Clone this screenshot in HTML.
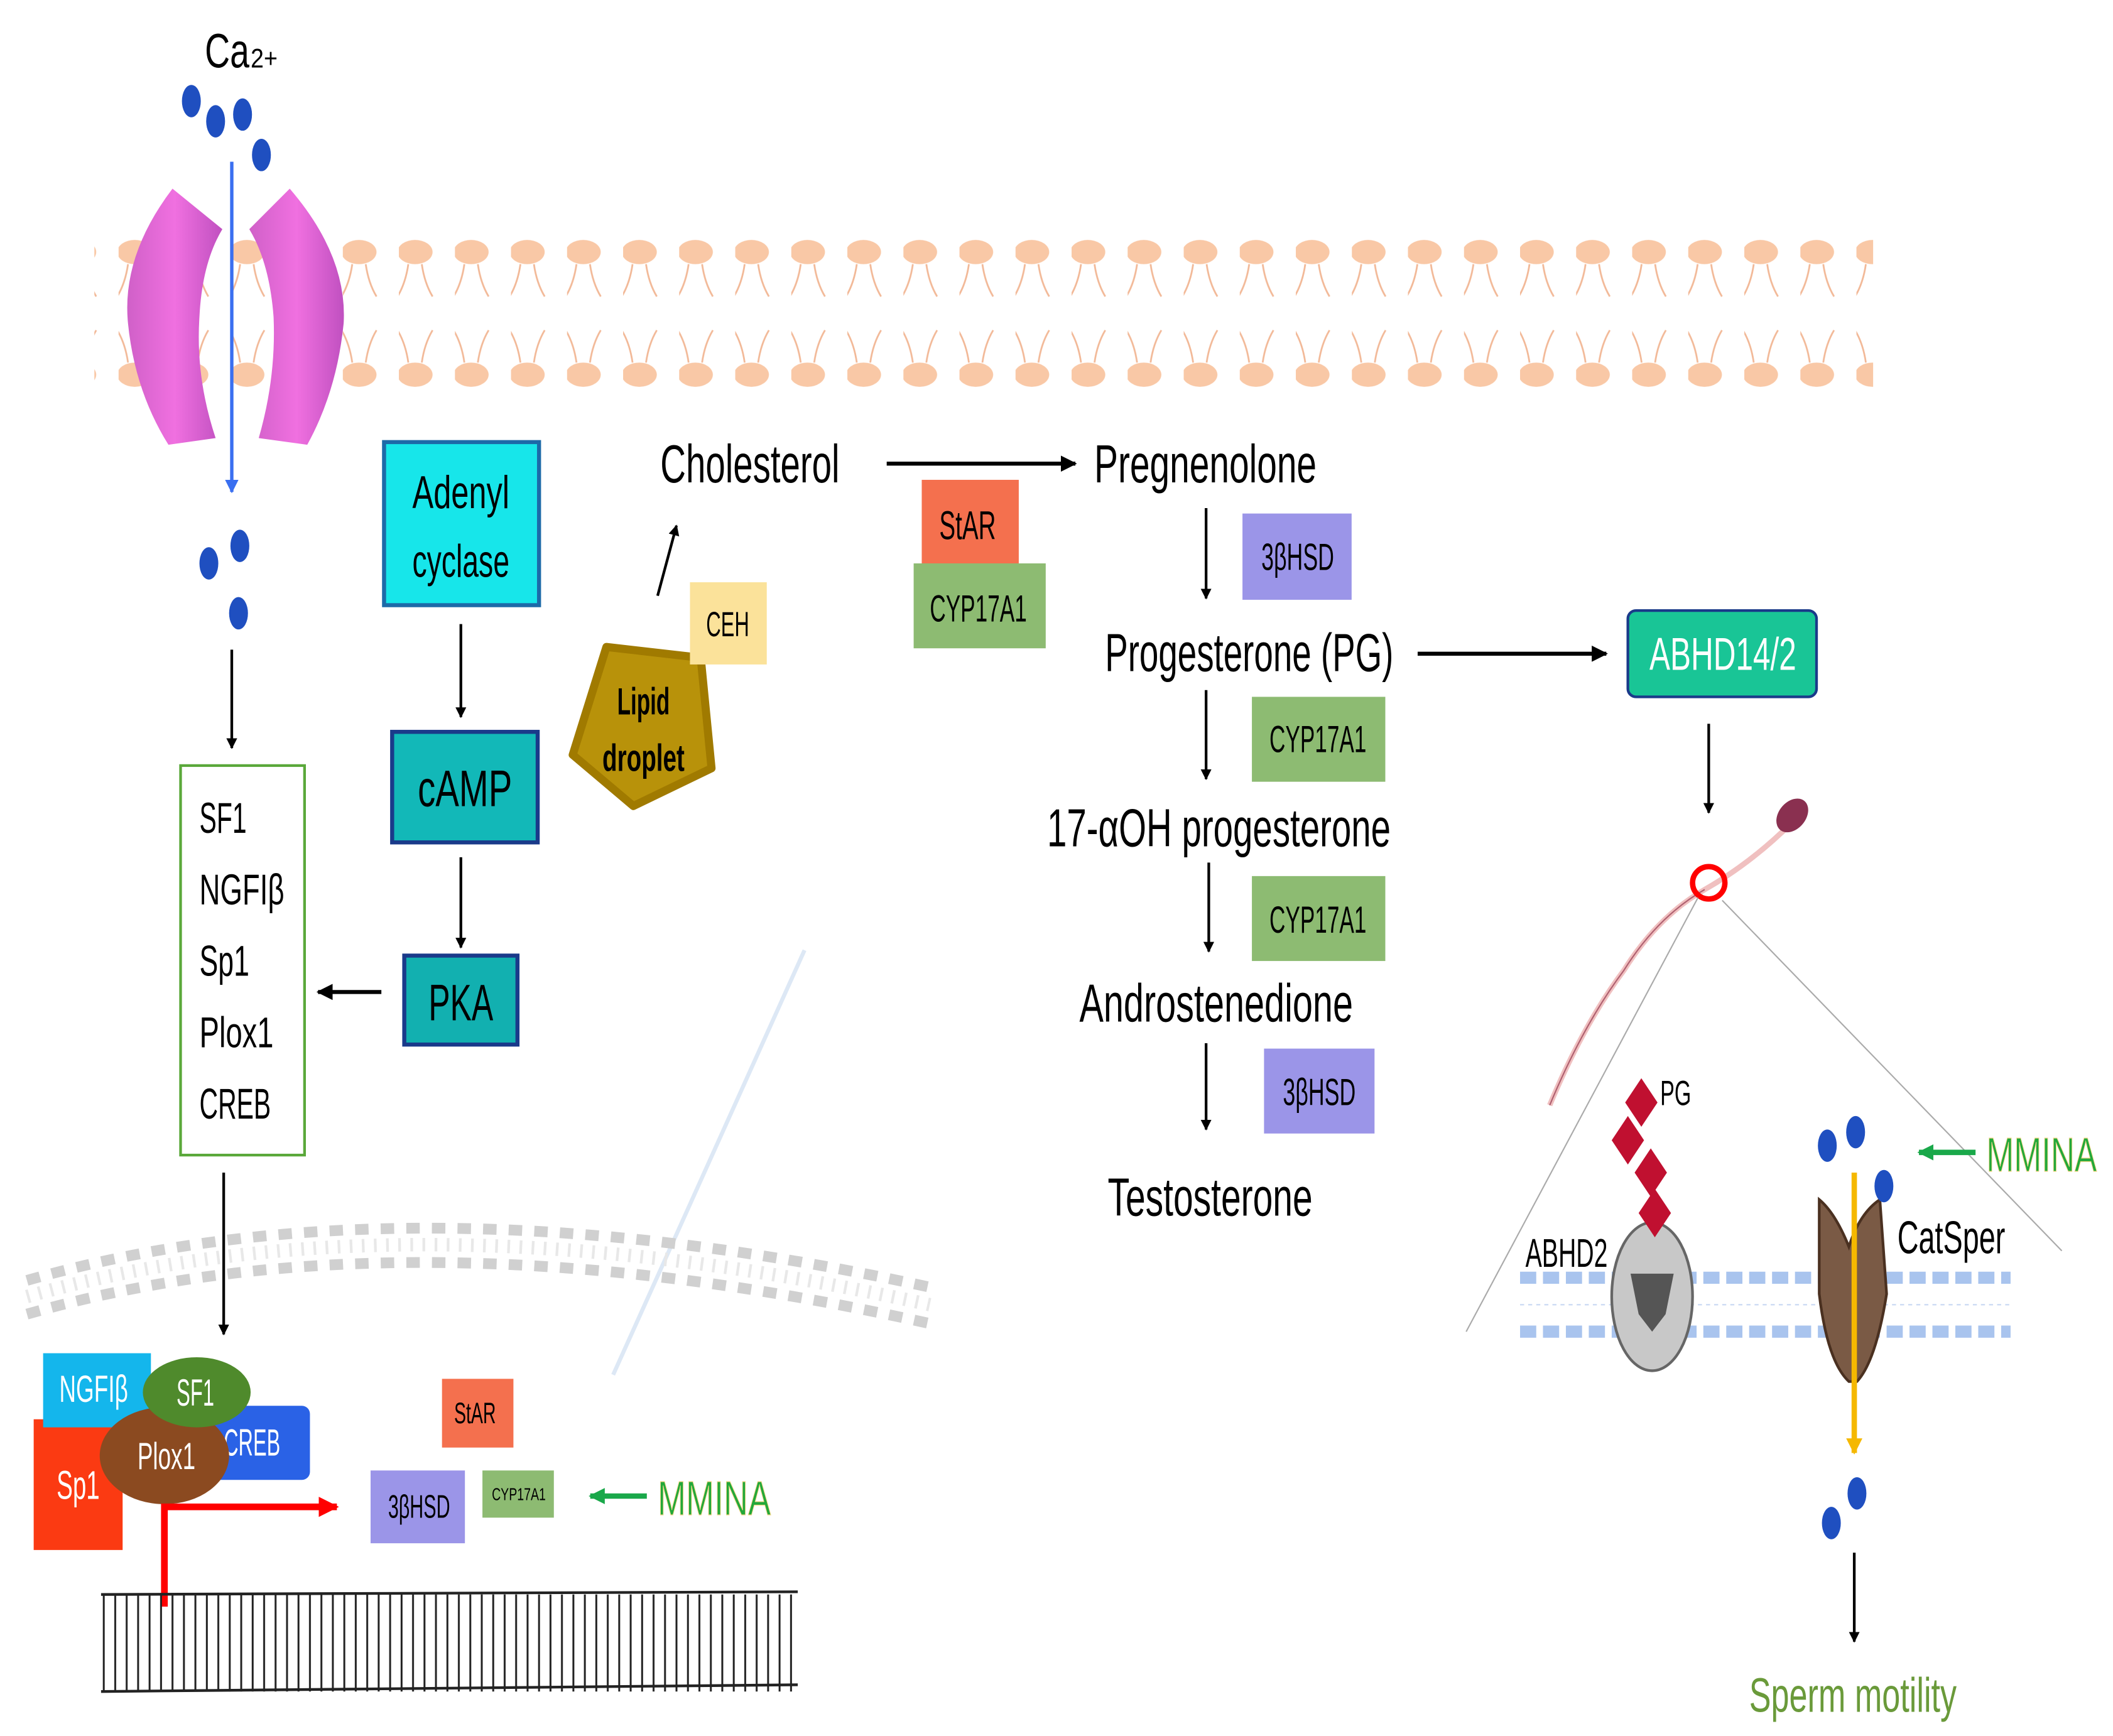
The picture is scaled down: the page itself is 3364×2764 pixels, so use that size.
<!DOCTYPE html>
<html><head><meta charset="utf-8">
<style>
html,body{margin:0;padding:0;background:#fff;}
svg{display:block;}
text{font-family:"Liberation Sans Narrow","Liberation Sans",sans-serif;}
</style></head>
<body>
<svg width="3364" height="2764" viewBox="0 0 1568 1288" preserveAspectRatio="none" xmlns="http://www.w3.org/2000/svg">
<defs>
<pattern id="lipTop" x="88" y="0" width="41.6" height="300" patternUnits="userSpaceOnUse">
  <ellipse cx="12" cy="187" rx="13" ry="9" fill="#f9c8a6"/>
  <path d="M7 196 q-2 14 -8 24 M17 196 q2 14 8 24" stroke="#f2b998" fill="none" stroke-width="1.3"/>
  <ellipse cx="12" cy="278" rx="13" ry="9" fill="#f9c8a6"/>
  <path d="M7 269 q-2 -14 -8 -24 M17 269 q2 -14 8 -24" stroke="#f2b998" fill="none" stroke-width="1.3"/>
</pattern>
<pattern id="dna" x="75" y="0" width="8.5" height="10" patternUnits="userSpaceOnUse">
  <line x1="2" y1="0" x2="2" y2="10" stroke="#222" stroke-width="1.4"/>
</pattern>
<linearGradient id="pink" x1="0" x2="1">
  <stop offset="0" stop-color="#d060c8"/><stop offset="0.5" stop-color="#f070e0"/><stop offset="1" stop-color="#c050c0"/>
</linearGradient>
<marker id="ah" viewBox="0 0 10 10" refX="9" refY="5" markerWidth="4" markerHeight="4" orient="auto"><path d="M0 0 L10 5 L0 10z" fill="#000"/></marker>
<marker id="ahb" viewBox="0 0 10 10" refX="9" refY="5" markerWidth="4" markerHeight="4" orient="auto"><path d="M0 0 L10 5 L0 10z" fill="#3a6ff0"/></marker>
<marker id="ahg" viewBox="0 0 10 10" refX="9" refY="5" markerWidth="3" markerHeight="3" orient="auto"><path d="M0 0 L10 5 L0 10z" fill="#1aa84a"/></marker>
<marker id="ahr" viewBox="0 0 10 10" refX="9" refY="5" markerWidth="3" markerHeight="3" orient="auto"><path d="M0 0 L10 5 L0 10z" fill="#f00"/></marker>
<marker id="ahy" viewBox="0 0 10 10" refX="9" refY="5" markerWidth="3" markerHeight="3" orient="auto"><path d="M0 0 L10 5 L0 10z" fill="#f5b800"/></marker>
</defs>

<rect x="70" y="170" width="1320" height="125" fill="url(#lipTop)"/>

<path d="M128 140 Q90 190 95 240 Q100 290 125 330 L160 325 Q145 280 148 235 Q150 195 165 170 Z" fill="url(#pink)"/>
<path d="M215 140 Q258 190 255 240 Q250 290 228 330 L192 325 Q205 280 203 235 Q200 195 185 170 Z" fill="url(#pink)"/>
<text x="152" y="50" font-size="36" textLength="33" lengthAdjust="spacingAndGlyphs">Ca</text>
<text x="186" y="50" font-size="20" textLength="20" lengthAdjust="spacingAndGlyphs">2+</text>
<g fill="#1f4fc0">
<ellipse cx="142" cy="75" rx="7" ry="12"/><ellipse cx="160" cy="90" rx="7" ry="12"/><ellipse cx="180" cy="85" rx="7" ry="12"/><ellipse cx="194" cy="115" rx="7" ry="12"/>
<ellipse cx="155" cy="418" rx="7" ry="12"/><ellipse cx="178" cy="405" rx="7" ry="12"/><ellipse cx="177" cy="455" rx="7" ry="12"/>
</g>
<line x1="172" y1="120" x2="172" y2="365" stroke="#3a6ff0" stroke-width="2.5" marker-end="url(#ahb)"/>

<line x1="172" y1="482" x2="172" y2="555" stroke="#000" stroke-width="2" marker-end="url(#ah)"/>
<rect x="134" y="568" width="92" height="289" fill="#fff" stroke="#5aa83a" stroke-width="2"/>
<g font-size="32" fill="#000" lengthAdjust="spacingAndGlyphs">
<text x="148" y="618" textLength="35" lengthAdjust="spacingAndGlyphs">SF1</text>
<text x="148" y="671" textLength="63" lengthAdjust="spacingAndGlyphs">NGFIβ</text>
<text x="148" y="724" textLength="37" lengthAdjust="spacingAndGlyphs">Sp1</text>
<text x="148" y="777" textLength="55" lengthAdjust="spacingAndGlyphs">Plox1</text>
<text x="148" y="830" textLength="53" lengthAdjust="spacingAndGlyphs">CREB</text>
</g>
<line x1="166" y1="870" x2="166" y2="990" stroke="#000" stroke-width="2" marker-end="url(#ah)"/>

<rect x="285" y="328" width="115" height="121" fill="#17e6ea" stroke="#1d6aa8" stroke-width="3"/>
<text x="306" y="377" font-size="34" textLength="72" lengthAdjust="spacingAndGlyphs">Adenyl</text>
<text x="306" y="428" font-size="34" textLength="72" lengthAdjust="spacingAndGlyphs">cyclase</text>
<line x1="342" y1="463" x2="342" y2="532" stroke="#000" stroke-width="2" marker-end="url(#ah)"/>
<rect x="291" y="543" width="108" height="82" fill="#12b8b8" stroke="#1a3a8a" stroke-width="3"/>
<text x="310" y="598" font-size="38" textLength="70" lengthAdjust="spacingAndGlyphs">cAMP</text>
<line x1="342" y1="636" x2="342" y2="703" stroke="#000" stroke-width="2" marker-end="url(#ah)"/>
<rect x="300" y="709" width="84" height="66" fill="#12b0b0" stroke="#1a3a8a" stroke-width="3"/>
<text x="318" y="757" font-size="38" textLength="48" lengthAdjust="spacingAndGlyphs">PKA</text>
<line x1="283" y1="736" x2="236" y2="736" stroke="#000" stroke-width="3" marker-end="url(#ah)"/>

<path d="M450 480 L520 488 L528 570 L470 598 L425 560 Z" fill="#b8920a" stroke="#a07a00" stroke-linejoin="round" stroke-width="6"/>
<text x="458" y="530" font-size="28" font-weight="bold" textLength="39" lengthAdjust="spacingAndGlyphs">Lipid</text>
<text x="447" y="572" font-size="28" font-weight="bold" textLength="61" lengthAdjust="spacingAndGlyphs">droplet</text>
<rect x="512" y="432" width="57" height="61" fill="#fbe29a"/>
<text x="524" y="472" font-size="26" textLength="32" lengthAdjust="spacingAndGlyphs">CEH</text>
<line x1="488" y1="442" x2="502" y2="390" stroke="#000" stroke-width="2" marker-end="url(#ah)"/>
<line x1="455" y1="1020" x2="597" y2="705" stroke="#dde8f5" stroke-width="3"/>

<text x="490" y="358" font-size="40" textLength="133" lengthAdjust="spacingAndGlyphs">Cholesterol</text>
<line x1="658" y1="344" x2="798" y2="344" stroke="#000" stroke-width="3" marker-end="url(#ah)"/>
<rect x="684" y="356" width="72" height="62" fill="#f4704e"/>
<text x="697" y="400" font-size="30" textLength="42" lengthAdjust="spacingAndGlyphs">StAR</text>
<rect x="678" y="418" width="98" height="63" fill="#8dbb72"/>
<text x="690" y="461" font-size="28" textLength="72" lengthAdjust="spacingAndGlyphs">CYP17A1</text>
<text x="812" y="358" font-size="40" textLength="165" lengthAdjust="spacingAndGlyphs">Pregnenolone</text>
<line x1="895" y1="377" x2="895" y2="444" stroke="#000" stroke-width="2" marker-end="url(#ah)"/>
<rect x="922" y="381" width="81" height="64" fill="#9b95e8"/>
<text x="936" y="423" font-size="28" textLength="54" lengthAdjust="spacingAndGlyphs">3βHSD</text>
<text x="820" y="498" font-size="40" textLength="214" lengthAdjust="spacingAndGlyphs">Progesterone (PG)</text>
<line x1="1052" y1="485" x2="1192" y2="485" stroke="#000" stroke-width="3" marker-end="url(#ah)"/>
<rect x="1208" y="453" width="140" height="64" rx="6" fill="#19c596" stroke="#1a3a8a" stroke-width="2"/>
<text x="1224" y="497" font-size="34" fill="#fff" textLength="109" lengthAdjust="spacingAndGlyphs">ABHD14/2</text>
<line x1="895" y1="512" x2="895" y2="578" stroke="#000" stroke-width="2" marker-end="url(#ah)"/>
<rect x="929" y="517" width="99" height="63" fill="#8dbb72"/>
<text x="942" y="558" font-size="28" textLength="72" lengthAdjust="spacingAndGlyphs">CYP17A1</text>
<text x="777" y="628" font-size="40" textLength="255" lengthAdjust="spacingAndGlyphs">17-αOH progesterone</text>
<line x1="897" y1="640" x2="897" y2="706" stroke="#000" stroke-width="2" marker-end="url(#ah)"/>
<rect x="929" y="650" width="99" height="63" fill="#8dbb72"/>
<text x="942" y="692" font-size="28" textLength="72" lengthAdjust="spacingAndGlyphs">CYP17A1</text>
<text x="801" y="758" font-size="40" textLength="203" lengthAdjust="spacingAndGlyphs">Androstenedione</text>
<line x1="895" y1="774" x2="895" y2="838" stroke="#000" stroke-width="2" marker-end="url(#ah)"/>
<rect x="938" y="778" width="82" height="63" fill="#9b95e8"/>
<text x="952" y="820" font-size="28" textLength="54" lengthAdjust="spacingAndGlyphs">3βHSD</text>
<text x="822" y="902" font-size="40" textLength="152" lengthAdjust="spacingAndGlyphs">Testosterone</text>

<path d="M20 950 Q300 870 690 955" stroke="#d0d0d0" stroke-width="8" fill="none" stroke-dasharray="10 9"/>
<path d="M20 975 Q300 895 690 982" stroke="#d0d0d0" stroke-width="8" fill="none" stroke-dasharray="10 9"/>
<path d="M20 962 Q300 882 690 968" stroke="#e8e8e8" stroke-width="10" fill="none" stroke-dasharray="2 7"/>

<rect x="25" y="1053" width="66" height="97" fill="#fb3a12"/>
<text x="42" y="1112" font-size="30" fill="#fff" textLength="32" lengthAdjust="spacingAndGlyphs">Sp1</text>
<rect x="32" y="1004" width="80" height="55" fill="#14b6ec"/>
<text x="44" y="1040" font-size="28" fill="#fff" textLength="51" lengthAdjust="spacingAndGlyphs">NGFIβ</text>
<rect x="148" y="1043" width="82" height="55" rx="6" fill="#2a62e6"/>
<text x="166" y="1080" font-size="28" fill="#fff" textLength="42" lengthAdjust="spacingAndGlyphs">CREB</text>
<ellipse cx="122" cy="1080" rx="48" ry="36" fill="#8b4a20"/>
<text x="102" y="1090" font-size="28" fill="#fff" textLength="43" lengthAdjust="spacingAndGlyphs">Plox1</text>
<ellipse cx="146" cy="1033" rx="40" ry="26" fill="#4f8a2c"/>
<text x="131" y="1043" font-size="28" fill="#fff" textLength="28" lengthAdjust="spacingAndGlyphs">SF1</text>
<path d="M122 1192 L122 1118 L250 1118" stroke="#f00" stroke-width="5" fill="none" marker-end="url(#ahr)"/>
<rect x="75" y="1183" width="517" height="72" fill="url(#dna)"/>
<line x1="75" y1="1183" x2="592" y2="1181" stroke="#222" stroke-width="2"/>
<line x1="75" y1="1255" x2="592" y2="1250" stroke="#222" stroke-width="2"/>
<rect x="328" y="1023" width="53" height="51" fill="#f4704e"/>
<text x="337" y="1056" font-size="22" textLength="31" lengthAdjust="spacingAndGlyphs">StAR</text>
<rect x="275" y="1091" width="70" height="54" fill="#9b95e8"/>
<text x="288" y="1126" font-size="24" textLength="46" lengthAdjust="spacingAndGlyphs">3βHSD</text>
<rect x="358" y="1091" width="53" height="35" fill="#8dbb72"/>
<text x="365" y="1113" font-size="13" textLength="40" lengthAdjust="spacingAndGlyphs">CYP17A1</text>
<line x1="480" y1="1110" x2="438" y2="1110" stroke="#1aa84a" stroke-width="4" marker-end="url(#ahg)"/>
<text x="488" y="1124" font-size="36" fill="#22a83a" stroke="#f7d88a" stroke-width="0.6" textLength="84" lengthAdjust="spacingAndGlyphs">MMINA</text>

<line x1="1268" y1="537" x2="1268" y2="603" stroke="#000" stroke-width="2" marker-end="url(#ah)"/>
<path d="M1150 820 Q1175 760 1205 720 Q1230 680 1265 660 Q1300 640 1330 610" stroke="#f0c0c0" stroke-width="4" fill="none"/>
<path d="M1150 820 Q1175 760 1205 720 Q1230 680 1265 660" stroke="#b06070" stroke-width="1" fill="none"/>
<ellipse cx="1330" cy="605" rx="10" ry="14" transform="rotate(40 1330 605)" fill="#8a3050"/>
<circle cx="1268" cy="655" r="12" fill="none" stroke="#f00" stroke-width="4"/>
<line x1="1260" y1="666" x2="1088" y2="988" stroke="#aaa" stroke-width="1"/>
<line x1="1278" y1="668" x2="1530" y2="928" stroke="#aaa" stroke-width="1"/>
<line x1="1128" y1="948" x2="1492" y2="948" stroke="#a9c4ee" stroke-width="9" stroke-dasharray="12 5"/>
<line x1="1128" y1="988" x2="1492" y2="988" stroke="#a9c4ee" stroke-width="9" stroke-dasharray="12 5"/>
<line x1="1128" y1="968" x2="1492" y2="968" stroke="#c8d8f3" stroke-width="1" stroke-dasharray="3 3"/>
<ellipse cx="1226" cy="962" rx="30" ry="55" fill="#c8c8c8" stroke="#666" stroke-width="2"/>
<path d="M1210 945 L1242 945 L1236 975 L1226 988 L1216 975 Z" fill="#555"/>
<g fill="#c01030">
<path d="M1218 800 L1230 818 L1218 836 L1206 818Z"/><path d="M1208 828 L1220 846 L1208 864 L1196 846Z"/><path d="M1225 852 L1237 870 L1225 888 L1213 870Z"/><path d="M1228 882 L1240 900 L1228 918 L1216 900Z"/>
</g>
<text x="1232" y="820" font-size="26" textLength="23" lengthAdjust="spacingAndGlyphs">PG</text>
<text x="1132" y="940" font-size="30" textLength="61" lengthAdjust="spacingAndGlyphs">ABHD2</text>
<path d="M1350 890 Q1362 900 1372 925 Q1380 900 1395 890 L1400 960 Q1392 1010 1378 1025 L1372 1025 Q1356 1010 1350 960 Z" fill="#7a5a45" stroke="#4a3020" stroke-width="2"/>
<line x1="1376" y1="870" x2="1376" y2="1078" stroke="#f5b800" stroke-width="4" marker-end="url(#ahy)"/>
<text x="1408" y="930" font-size="34" textLength="80" lengthAdjust="spacingAndGlyphs">CatSper</text>
<g fill="#1f4fc0">
<ellipse cx="1356" cy="850" rx="7" ry="12"/><ellipse cx="1377" cy="840" rx="7" ry="12"/><ellipse cx="1398" cy="880" rx="7" ry="12"/>
<ellipse cx="1359" cy="1130" rx="7" ry="12"/><ellipse cx="1378" cy="1108" rx="7" ry="12"/>
</g>
<line x1="1466" y1="855" x2="1424" y2="855" stroke="#1aa84a" stroke-width="4" marker-end="url(#ahg)"/>
<text x="1474" y="869" font-size="36" fill="#22a83a" stroke="#f7d88a" stroke-width="0.6" textLength="82" lengthAdjust="spacingAndGlyphs">MMINA</text>
<line x1="1376" y1="1152" x2="1376" y2="1218" stroke="#000" stroke-width="2" marker-end="url(#ah)"/>
<text x="1298" y="1270" font-size="36" fill="#6a9a3a" textLength="154" lengthAdjust="spacingAndGlyphs">Sperm motility</text>
</svg>
</body></html>
